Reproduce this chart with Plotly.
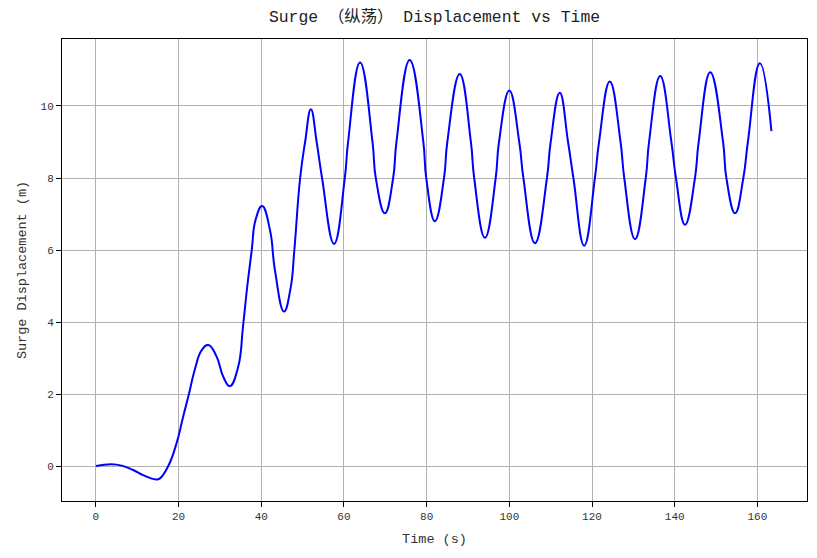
import plotly.graph_objects as go

# values (peaks, troughs and grid-line crossings)
time_s = [0, 5.0, 9.0, 11.4, 14.5, 15.5, 17.5, 19.5, 21.1, 22.5, 23.9, 25.6,
          27.2, 29.2, 30.8, 32.4, 34.4, 35.6, 36.6, 37.7, 38.6, 40.2, 42.1,
          43.3, 45.5, 47.1, 48.0, 49.4, 50.6, 52.0,
          53.4, 54.7, 57.6, 60.2, 61.0, 63.9,
          66.9, 67.7, 69.9, 71.9, 72.7, 75.9,
          79.2, 79.9, 82.0, 84.2, 85.0, 88.0,
          90.7, 91.5, 94.1, 96.7, 97.5, 100.0,
          102.4, 103.4, 106.2, 109.1, 110.0, 112.2,
          114.2, 115.5, 118.1, 120.7, 121.7, 124.3,
          126.9, 127.8, 130.4, 133.0, 133.8, 136.5,
          139.2, 140.3, 142.5, 144.9, 145.8, 148.6,
          151.7, 152.5, 154.6, 156.6, 157.7, 160.6,
          163.4]
surge_m = [0, 0.04, -0.11, -0.25, -0.37, -0.34, 0.0, 0.63, 1.37, 2.0, 2.67, 3.22,
           3.36, 3.04, 2.48, 2.22, 2.75, 3.9, 4.98, 6.0, 6.83, 7.22, 6.56,
           5.44, 4.29, 4.95, 6.0, 8.0, 9.0, 9.91,
           9.0, 8.0, 6.17, 8.0, 9.0, 11.21,
           9.0, 8.0, 7.02, 8.0, 9.0, 11.28,
           9.0, 8.0, 6.80, 8.0, 9.0, 10.89,
           9.0, 8.0, 6.34, 8.0, 9.0, 10.43,
           9.0, 8.0, 6.19, 8.0, 9.0, 10.37,
           9.0, 8.0, 6.12, 8.0, 9.0, 10.68,
           9.0, 8.0, 6.30, 8.0, 9.0, 10.83,
           9.0, 8.0, 6.70, 8.0, 9.0, 10.94,
           9.0, 8.0, 7.02, 8.0, 9.0, 11.19,
           9.30]

x_ticks = [0, 20, 40, 60, 80, 100, 120, 140, 160]
y_ticks = [0, 2, 4, 6, 8, 10]

mono = "Liberation Mono, Noto Sans CJK SC, monospace"

fig = go.Figure()
fig.add_trace(go.Scatter(x=time_s, y=surge_m, mode="lines",
                         line=dict(color="#0000ff", width=2, shape="spline", smoothing=1.3),
                         showlegend=False))

axis_style = dict(showline=True, mirror=True, linecolor="black", linewidth=1,
                  ticks="outside", ticklen=5, tickcolor="black", automargin=False,
                  showgrid=True, gridcolor="#b0b0b0", gridwidth=1, zeroline=False,
                  tickfont=dict(family=mono, size=11, color="#333333"))

fig.update_xaxes(range=[-8.2, 172], tickvals=x_ticks,
                 title=dict(text="Time (s)", font=dict(family=mono, size=13.5, color="#333333"),
                            standoff=11),
                 **axis_style)
fig.update_yaxes(range=[-0.97, 11.86], tickvals=y_ticks,
                 title=dict(text="Surge Displacement (m)",
                            font=dict(family=mono, size=13.5, color="#333333"), standoff=10),
                 **axis_style)

# the page puts the figure 8px in from the top-left corner, so size/margins allow for it
fig.update_layout(
    width=809, height=550,
    margin=dict(l=54, r=10, t=31, b=57, autoexpand=False),
    paper_bgcolor="white", plot_bgcolor="white",
    title=dict(text="Surge （纵荡） Displacement vs Time", x=0.5, xref="paper",
               y=1 - 8 / 550, yref="container", yanchor="middle",
               font=dict(family=mono, size=16.4, color="#222222")),
)

fig.write_html("out.html")
